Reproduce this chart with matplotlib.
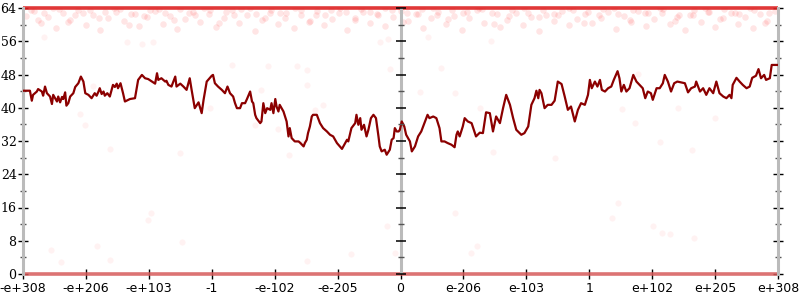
import matplotlib
matplotlib.use("Agg")
import matplotlib.pyplot as plt
import numpy as np

# x positions are in tick units: tick k sits at x = k, k = -6..6
tick_pos = np.arange(-6, 7)
tick_labels = ["-e+308", "-e+206", "-e+103", "-1", "-e-102", "-e-205", "0",
               "e-206", "e-103", "1", "e+102", "e+205", "e+308"]
y_major = np.arange(0, 65, 8)
y_minor = np.arange(4, 64, 8)

line_x = [
    -6.00, -5.89, -5.86, -5.84, -5.78, -5.76, -5.70, -5.68, -5.65, -5.62, -5.57, -5.54, -5.52,
    -5.46, -5.44, -5.41, -5.38, -5.36, -5.33, -5.31, -5.28, -5.25, -5.20, -5.17, -5.12, -5.08,
    -5.04, -5.01, -4.96, -4.91, -4.86, -4.83, -4.80, -4.78, -4.75, -4.72, -4.70, -4.66, -4.62,
    -4.57, -4.54, -4.51, -4.49, -4.45, -4.41, -4.38, -4.30, -4.22, -4.17, -4.11, -4.06, -4.01,
    -3.95, -3.90, -3.87, -3.85, -3.80, -3.74, -3.72, -3.69, -3.64, -3.58, -3.56, -3.50, -3.45,
    -3.40, -3.35, -3.32, -3.27, -3.21, -3.16, -3.13, -3.08, -3.00,
    -2.98, -2.95, -2.90, -2.84, -2.79, -2.75, -2.71, -2.66, -2.63, -2.60, -2.55, -2.52, -2.47,
    -2.44, -2.39, -2.36, -2.34, -2.31, -2.29, -2.23, -2.21, -2.18, -2.15, -2.12, -2.07, -2.05,
    -2.02, -1.99, -1.97, -1.94, -1.92, -1.86, -1.81, -1.78, -1.76, -1.73, -1.68, -1.62, -1.59,
    -1.54, -1.52, -1.49, -1.47, -1.44, -1.41, -1.39, -1.33, -1.28, -1.23, -1.17, -1.12, -1.07,
    -1.01, -0.93, -0.88, -0.85, -0.83, -0.78, -0.72, -0.70, -0.67, -0.64, -0.62, -0.58, -0.54,
    -0.51, -0.47, -0.43, -0.39, -0.35, -0.33, -0.30, -0.25, -0.22, -0.17, -0.14, -0.11, -0.09,
    -0.06, -0.03,
    -0.01, 0.02, 0.06, 0.09, 0.15, 0.18, 0.23, 0.28, 0.33, 0.38, 0.43, 0.46, 0.52, 0.57, 0.62,
    0.65, 0.70, 0.75, 0.81, 0.86, 0.89, 0.91, 0.94, 0.99, 1.02, 1.07, 1.13, 1.20, 1.26, 1.31,
    1.36, 1.42, 1.47, 1.52, 1.58, 1.63, 1.68, 1.74, 1.79, 1.84, 1.92, 1.97, 2.03, 2.08, 2.13,
    2.16, 2.19, 2.21, 2.24, 2.29, 2.34, 2.40, 2.45, 2.50, 2.56, 2.61, 2.66, 2.71, 2.77, 2.82,
    2.87, 2.93, 2.98,
    3.01, 3.04, 3.09, 3.13, 3.17, 3.20, 3.25, 3.30, 3.35, 3.39, 3.45, 3.48, 3.51, 3.55, 3.59,
    3.64, 3.70, 3.75, 3.80, 3.85, 3.89, 3.93, 3.98, 4.01, 4.07, 4.12, 4.17, 4.20, 4.25, 4.30,
    4.35, 4.40, 4.46, 4.52, 4.57, 4.62, 4.68, 4.70, 4.76, 4.81, 4.86, 4.91, 4.97, 5.02, 5.07,
    5.13, 5.18, 5.23, 5.26, 5.28, 5.34, 5.39, 5.44, 5.50, 5.55, 5.59, 5.65, 5.69, 5.73, 5.78,
    5.81, 5.87, 5.90, 6.00,
]
line_y = [
    44.1, 44.1, 41.7, 43.1, 43.9, 44.5, 43.9, 42.9, 45.1, 43.5, 42.7, 40.9, 43.1,
    41.5, 42.7, 41.3, 42.6, 42.1, 43.7, 40.5, 41.1, 42.7, 43.5, 45.0, 45.9, 47.5,
    46.3, 43.5, 43.1, 42.3, 43.5, 42.9, 43.9, 44.7, 43.3, 43.9, 42.9, 43.5, 42.7,
    45.5, 45.0, 45.8, 44.7, 45.9, 43.5, 41.5, 42.1, 42.3, 46.7, 47.9, 47.1, 46.9,
    46.3, 45.8, 48.3, 46.7, 47.1, 46.3, 46.5, 45.5, 45.1, 47.5, 45.1, 45.8, 45.1,
    44.3, 47.1, 44.3, 39.9, 41.3, 38.7, 41.9, 46.3, 47.7,
    47.9, 45.9, 45.1, 44.3, 43.5, 45.1, 43.5, 42.7, 41.1, 39.9, 39.9, 41.1, 41.1,
    42.1, 43.9, 41.5, 41.1, 38.3, 37.5, 36.3, 36.7, 41.1, 38.7, 39.9, 39.5, 41.1,
    38.7, 42.1, 40.3, 39.1, 40.7, 39.1, 36.7, 33.1, 35.1, 32.7, 31.9, 31.9, 31.5,
    30.7, 31.5, 32.3, 33.9, 35.5, 37.9, 38.3, 38.3, 36.3, 35.1, 34.3, 33.5, 33.1,
    31.5, 30.1, 31.5, 32.3, 31.9, 35.1, 36.3, 38.3, 35.9, 37.5, 34.7, 35.9, 33.1,
    34.7, 37.5, 38.3, 37.5, 33.1, 30.7, 29.5, 29.9, 28.7, 29.9, 32.3, 32.7, 35.1,
    34.3, 34.3,
    34.7, 36.7, 35.5, 33.5, 31.9, 29.5, 30.7, 33.1, 34.3, 36.3, 38.3, 37.5, 37.9, 37.5, 35.1,
    31.9, 31.9, 31.5, 31.1, 30.5, 33.5, 34.3, 33.1, 35.5, 37.5, 36.7, 36.3, 33.1, 34.0, 33.9,
    38.9, 38.7, 34.3, 37.9, 36.3, 39.9, 43.1, 40.7, 37.5, 34.7, 33.5, 33.9, 35.5, 40.7, 42.3,
    44.1, 42.3, 44.3, 43.5, 39.9, 40.7, 40.7, 41.7, 46.3, 45.7, 42.7, 39.5, 40.3, 36.7, 39.5,
    41.1, 40.7, 43.1,
    46.7, 44.7, 46.3, 45.1, 46.7, 44.3, 43.9, 44.7, 45.1, 46.7, 48.8, 47.1, 43.9, 45.5, 43.9,
    44.7, 47.9, 46.3, 45.5, 44.7, 42.3, 43.9, 43.5, 41.9, 44.7, 44.7, 45.9, 47.9, 46.3, 43.9,
    45.9, 46.3, 46.1, 45.9, 43.7, 44.7, 45.1, 46.3, 43.9, 44.7, 43.1, 44.7, 43.5, 46.3, 43.5,
    42.7, 42.3, 43.1, 42.3, 45.5, 47.2, 46.3, 45.5, 44.7, 45.1, 47.2, 47.7, 49.3, 47.1, 47.9,
    46.7, 47.1, 50.3, 50.3,
]

# faint cloud of samples just under the top
cloud_x = [
    -5.95, -5.82, -5.71, -5.60, -5.48, -5.37, -5.25, -5.12, -5.00, -4.88, -4.77, -4.65, -4.52,
    -4.40, -4.28, -4.15, -4.03, -3.90, -3.78, -3.66, -3.55, -3.42, -3.30, -3.18, -3.05, -2.93,
    -2.80, -2.68, -2.56, -2.44, -2.31, -2.20, -2.07, -1.95, -1.83, -1.70, -1.58, -1.45, -1.33,
    -1.21, -1.09, -0.97, -0.85, -0.72, -0.60, -0.48, -0.36, -0.24, -0.12, 0.00, 0.12, 0.24,
    0.36, 0.48, 0.60, 0.72, 0.85, 0.97, 1.09, 1.21, 1.33, 1.45, 1.58, 1.70, 1.83, 1.95, 2.07,
    2.20, 2.31, 2.44, 2.56, 2.68, 2.80, 2.93, 3.05, 3.18, 3.30, 3.42, 3.55, 3.66, 3.78, 3.90,
    4.03, 4.15, 4.28, 4.40, 4.52, 4.65, 4.77, 4.88, 5.00, 5.12, 5.25, 5.37, 5.48, 5.60, 5.71,
    5.82, 5.95,
    -5.88, -5.66, -5.42, -5.18, -4.94, -4.70, -4.46, -4.22, -3.98, -3.74, -3.50, -3.26, -3.02,
    -2.78, -2.54, -2.30, -2.06, -1.82, -1.58, -1.34, -1.10, -0.86, -0.62, -0.38, -0.14, 0.10,
    0.34, 0.58, 0.82, 1.06, 1.30, 1.54, 1.78, 2.02, 2.26, 2.50, 2.74, 2.98, 3.22, 3.46, 3.70,
    3.94, 4.18, 4.42, 4.66, 4.90, 5.14, 5.38, 5.62, 5.86,
    -5.76, -5.52, -5.28, -5.04, -4.80, -4.56, -4.32, -4.08, -3.84, -3.60, -3.36, -3.12, -2.88,
    -2.64, -2.40, -2.16, -1.92, -1.68, -1.44, -1.20, -0.96, -0.72, -0.48, -0.24, 0.04, 0.28,
    0.52, 0.76, 1.00, 1.24, 1.48, 1.72, 1.96, 2.20, 2.44, 2.68, 2.92, 3.16, 3.40, 3.64, 3.88,
    4.12, 4.36, 4.60, 4.84, 5.08, 5.32, 5.56, 5.80,
]
cloud_y = [
    62.1, 63.2, 60.4, 61.8, 59.2, 62.7, 61.1, 63.4, 60.0, 62.3, 58.6, 61.5, 63.0,
    60.8, 62.5, 59.7, 61.9, 63.3, 60.2, 62.0, 58.9, 61.3, 63.1, 60.7, 62.6, 59.5,
    61.7, 63.4, 60.3, 62.2, 58.4, 61.0, 62.9, 60.1, 61.6, 59.3, 62.4, 60.6, 63.2,
    59.9, 61.4, 62.8, 58.8, 61.2, 63.0, 60.5, 62.3, 59.6, 61.8, 63.3, 60.9, 62.5,
    59.1, 61.5, 63.1, 60.2, 62.0, 58.7, 61.6, 63.4, 60.4, 62.7, 59.4, 61.1, 62.9, 60.0, 61.9,
    58.5, 62.4, 60.8, 63.2, 59.8, 61.4, 62.6, 60.3, 61.7, 63.0, 59.0, 62.1, 60.6, 63.3, 59.6,
    61.3, 62.8, 60.1, 61.8, 58.6, 62.3, 60.7, 63.1, 59.4, 61.6, 62.9, 60.2, 61.9, 59.1, 62.5,
    60.8, 63.2,
    63.6, 62.9, 63.8, 62.4, 63.5, 63.0, 63.7, 62.6, 63.4, 62.8, 63.7, 62.2, 63.5,
    63.0, 63.8, 62.5, 63.4, 62.9, 63.6, 62.3, 63.5, 63.0, 63.7, 62.6, 63.4, 62.8,
    63.7, 62.4, 63.5, 63.0, 63.8, 62.5, 63.4, 62.9, 63.6, 62.3, 63.5, 63.0, 63.7, 62.6, 63.4,
    62.8, 63.7, 62.4, 63.5, 63.0, 63.8, 62.5, 63.4, 62.9,
    61.2, 63.9, 60.7, 62.8, 61.6, 63.9, 59.8, 62.1, 63.8, 61.0, 62.7, 63.9, 60.4,
    62.4, 63.9, 61.5, 62.9, 63.9, 60.9, 62.2, 63.9, 61.7, 63.0, 63.9, 60.6, 62.5,
    63.9, 61.3, 62.8, 63.9, 60.2, 62.0, 63.9, 61.8, 62.6, 63.9, 60.5, 62.3, 63.9, 61.1, 62.9,
    63.9, 60.8, 62.4, 63.9, 61.4, 62.7, 63.9, 60.3,
]

# scattered stray samples in the middle of the range
stray_x = [-5.55, -5.39, -4.83, -4.62, -4.01, -3.96, -3.48, -1.49, -1.49, -0.33, -0.17, 0.65,
           0.31, 0.87, 0.44, 1.44, -0.20, -1.49, -0.78, -0.21, -0.08, 0.87, 1.21, 1.12, 3.46,
           3.36, 4.02, 4.15, 4.28, 4.67, -5.10, -5.02, -4.62, -3.51, -4.88, -3.03, -2.68,
           -2.10, -1.64, -2.21, -2.31, -1.94, -1.23, -1.36, -1.77, -1.57, 1.26, 1.47, 2.45,
           3.52, 3.73, 4.13, 4.63, 5.00, 3.78, 4.41, -5.67, -4.35, -4.11, -3.93]
stray_y = [5.8, 3.0, 6.7, 3.4, 13.0, 14.6, 7.8, 49.1, 45.5, 55.7, 49.3, 49.5,
           43.9, 43.5, 57.0, 56.1, 56.5, 3.2, 4.8, 11.5, 5.1, 14.7, 6.7, 5.1, 17.2,
           13.4, 11.5, 9.8, 9.6, 8.6, 38.5, 35.9, 30.0, 29.0, 45.2, 39.9, 50.3,
           50.0, 50.0, 44.3, 35.9, 34.8, 40.7, 39.5, 28.6, 31.4, 39.9, 29.4, 27.8,
           39.7, 36.3, 31.8, 29.8, 37.6, 48.1, 39.9, 57.1, 55.7, 55.3, 55.7]

# samples pinned at the two limits, across the whole range
band_x = [-6, 6]
top_y = [64, 64]
bottom_y = [0, 0]

fig = plt.figure(figsize=(8, 3), dpi=100)
ax = fig.add_axes([23 / 800, 26 / 300, 755 / 800, 266 / 300])

ax.scatter(stray_x, stray_y, s=20, color="red", alpha=0.05, lw=0, zorder=1)
ax.scatter(cloud_x, cloud_y, s=22, color="red", alpha=0.1, lw=0, zorder=1)
ax.plot(band_x, top_y, color="#dd2222", lw=2.6, alpha=0.9, solid_capstyle="butt",
        clip_on=False, zorder=2)
ax.plot(band_x, bottom_y, color="#d65a5a", lw=2.6, alpha=0.85, solid_capstyle="butt",
        clip_on=False, zorder=2)

ax.plot(line_x, line_y, color="#8b0000", lw=1.6, zorder=4)

# centre axis at 0
ax.axvline(0, color="#bbbbbb", lw=2.2, zorder=3)
ax.plot(np.zeros(len(y_major)), y_major, ls="none", marker="_", ms=7.2, mew=1.1,
        color="black", clip_on=False, zorder=5)
ax.plot(np.zeros(len(y_minor)), y_minor, ls="none", marker="_", ms=3.8, mew=1.0,
        color="#555555", clip_on=False, zorder=5)

ax.set_xlim(-6, 6)
ax.set_ylim(0, 64)
ax.set_xticks(tick_pos, labels=tick_labels, fontfamily="DejaVu Sans", fontsize=9)
ax.set_yticks(y_major, labels=[str(v) for v in y_major], fontfamily="DejaVu Serif",
              fontsize=9)
ax.set_yticks(y_minor, minor=True)

ax.tick_params(axis="y", which="major", direction="inout", length=7.2, width=1.0,
               color="black", pad=1, right=True)
ax.tick_params(axis="y", which="minor", direction="inout", length=3.8, width=1.0,
               color="#555555", right=True)
ax.tick_params(axis="x", which="major", direction="inout", length=7.2, width=1.0,
               color="black", pad=2)

for side in ("top", "bottom"):
    ax.spines[side].set_visible(False)
for side in ("left", "right"):
    ax.spines[side].set_color("#bbbbbb")
    ax.spines[side].set_linewidth(2.2)

fig.savefig("out.png", dpi=100)
